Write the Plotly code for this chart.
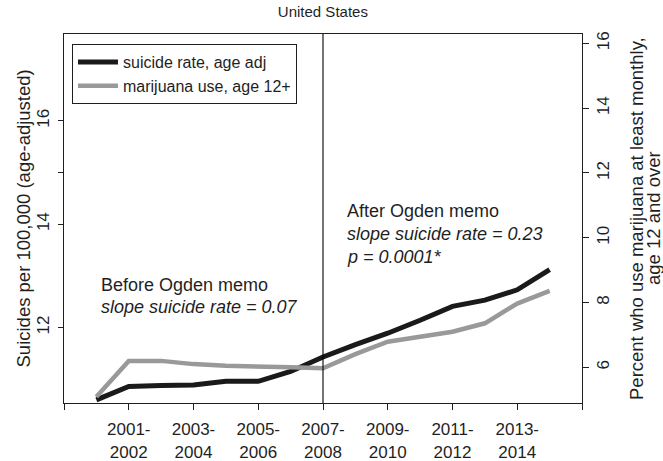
import plotly.graph_objects as go

# ---------------- data ----------------
period_index = list(range(15))            # 2000-2001 ... 2014-2015
suicide_rate = [10.60, 10.86, 10.88, 10.89, 10.96, 10.96, 11.15, 11.43,
                11.67, 11.89, 12.14, 12.41, 12.53, 12.73, 13.12]
marijuana_use = [5.09, 6.20, 6.20, 6.10, 6.05, 6.01, 6.00, 5.97,
                 6.41, 6.79, 6.94, 7.10, 7.36, 7.97, 8.36]

x_tick_positions = [-1, 1, 3, 5, 7, 9, 11, 13, 15]
x_tick_labels = ["", "2001-<br>2002", "2003-<br>2004", "2005-<br>2006",
                 "2007-<br>2008", "2009-<br>2010", "2011-<br>2012",
                 "2013-<br>2014", ""]
left_tick_values = [12, 14, 15, 16]
left_tick_labels = ["12", "14", "", "16"]
right_tick_values = [6, 8, 10, 12, 14, 16]
memo_index = 7

FONT = "Liberation Sans, Arial, Helvetica, sans-serif"
INK = "#1f1f1f"

fig = go.Figure()
fig.add_trace(go.Scatter(
    x=period_index, y=suicide_rate, mode="lines",
    name="suicide rate, age adj",
    line=dict(color="#1a1a1a", width=5),
    yaxis="y"))
fig.add_trace(go.Scatter(
    x=period_index, y=marijuana_use, mode="lines",
    name="marijuana use, age 12+",
    line=dict(color="#999999", width=4.5),
    yaxis="y2"))

fig.add_shape(type="line", xref="x", yref="paper",
              x0=memo_index, x1=memo_index, y0=0, y1=1,
              line=dict(color="#000000", width=1.1))

ann_font = dict(family=FONT, size=18, color=INK)
annotations = [
    dict(x=0.09, y=12.83, xref="x", yref="y", text="Before Ogden memo",
         showarrow=False, xanchor="left", yanchor="middle", font=ann_font),
    dict(x=0.09, y=12.40, xref="x", yref="y", text="<i>slope suicide rate = 0.07</i>",
         showarrow=False, xanchor="left", yanchor="middle", font=ann_font),
    dict(x=7.69, y=14.26, xref="x", yref="y", text="After Ogden memo",
         showarrow=False, xanchor="left", yanchor="middle", font=ann_font),
    dict(x=7.69, y=13.81, xref="x", yref="y", text="<i>slope suicide rate = 0.23</i>",
         showarrow=False, xanchor="left", yanchor="middle", font=ann_font),
    dict(x=7.69, y=13.37, xref="x", yref="y", text="<i>p = 0.0001*</i>",
         showarrow=False, xanchor="left", yanchor="middle", font=ann_font),
    # axis titles
    dict(x=0, y=0.5, xref="paper", yref="paper", xshift=-41,
         text="Suicides per 100,000 (age-adjusted)", textangle=-90,
         showarrow=False, xanchor="center", yanchor="middle",
         font=dict(family=FONT, size=18.5, color=INK)),
    dict(x=1, y=0.5, xref="paper", yref="paper", xshift=54.5,
         text="Percent who use marijuana at least monthly,", textangle=-90,
         showarrow=False, xanchor="center", yanchor="middle",
         font=dict(family=FONT, size=18.5, color=INK)),
    dict(x=1, y=0.5, xref="paper", yref="paper", xshift=71.5,
         text="age 12 and over", textangle=-90,
         showarrow=False, xanchor="center", yanchor="middle",
         font=dict(family=FONT, size=18.5, color=INK)),
]

fig.update_layout(
    width=663, height=461,
    margin=dict(l=64, r=81, t=34, b=58, autoexpand=False),
    paper_bgcolor="white", plot_bgcolor="white",
    font=dict(family=FONT, color=INK, size=17),
    title=dict(text="United States", x=0.487, xanchor="center",
               y=1 - 12 / 461, yanchor="middle",
               font=dict(family=FONT, size=15, color=INK)),
    showlegend=True,
    legend=dict(x=0.0154, y=0.9729, xanchor="left", yanchor="top",
                bgcolor="white", bordercolor=INK, borderwidth=1,
                font=dict(family=FONT, size=16, color=INK),
                itemwidth=40, tracegroupgap=0),
    xaxis=dict(range=[-1, 15], tickmode="array",
               tickvals=x_tick_positions, ticktext=x_tick_labels,
               showgrid=False, zeroline=False, automargin=False,
               showline=True, mirror=True, linecolor=INK, linewidth=1,
               ticks="outside", ticklen=6, tickcolor=INK, tickwidth=1,
               ticklabelstandoff=5,
               tickfont=dict(family=FONT, size=17, color=INK)),
    yaxis=dict(range=[10.54, 17.68], tickmode="array",
               tickvals=left_tick_values, ticktext=left_tick_labels,
               showgrid=False, zeroline=False, automargin=False,
               showline=True, mirror=True, linecolor=INK, linewidth=1,
               ticks="outside", ticklen=5, tickcolor=INK, tickwidth=1,
               tickangle=-90, ticklabelstandoff=2,
               tickfont=dict(family=FONT, size=17, color=INK)),
    yaxis2=dict(range=[4.90, 16.29], overlaying="y", side="right",
                tickmode="array", tickvals=right_tick_values,
                showgrid=False, zeroline=False, showline=False,
                automargin=False,
                ticks="outside", ticklen=6, tickcolor=INK, tickwidth=1,
                tickangle=-90, ticklabelstandoff=0,
                tickfont=dict(family=FONT, size=17, color=INK)),
    annotations=annotations,
)

fig.write_html("out.html",
               config={"displayModeBar": False},
               post_script="document.body.style.margin='0';")
